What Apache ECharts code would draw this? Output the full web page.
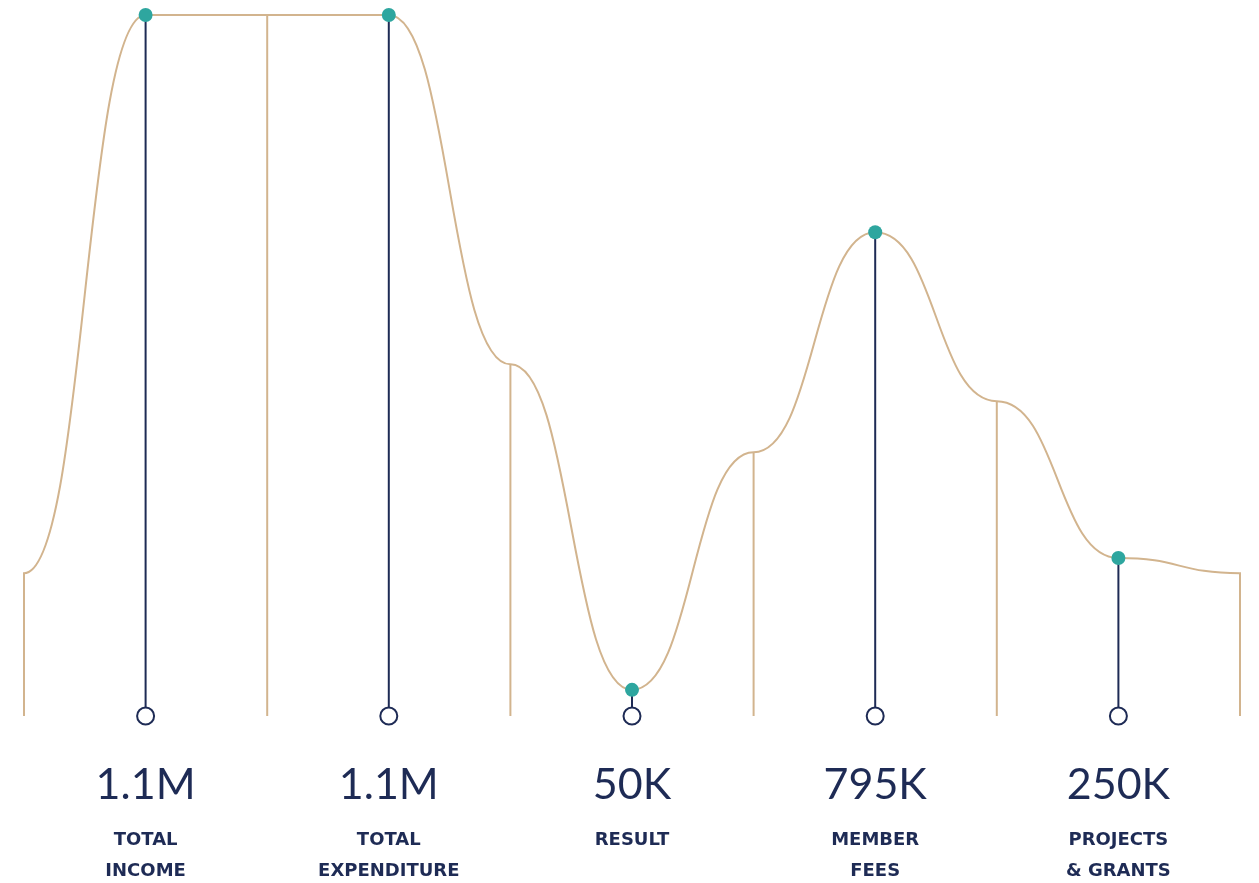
<!DOCTYPE html>
<html>
<head>
<meta charset="utf-8">
<script src="https://cdn.jsdelivr.net/npm/echarts@6/dist/echarts.min.js"></script>
<style>
html,body{margin:0;padding:0;background:#fff;}
#c{width:1259px;height:883px;}
</style>
</head>
<body>
<div id="c"></div>
<script>
// Curve heights (in thousands), one per slot (boundaries and items alternate)
const curveValues = [224, 1100, 1100, 1100, 552, 41, 414, 759, 494, 248, 224];
// Item slots (odd) carry the figures; even slots are the boundaries between them
const itemSlots = [1, 3, 5, 7, 9];
const valueLabels = ['1.1M', '1.1M', '50K', '795K', '250K'];
const categoryLabels = [['TOTAL', 'INCOME'], ['TOTAL', 'EXPENDITURE'], ['RESULT', ''], ['MEMBER', 'FEES'], ['PROJECTS', '& GRANTS']];

const TAN = '#D2B48E';
const NAVY = '#1E2B55';
const TEAL = '#2EA69F';

// One hidden slot on each side (cut off by the axis min/max) so the curve ends flat
const n = curveValues.length;
const slots = ['pad0'].concat(curveValues.map((_, i) => String(i)), ['pad1']);
const curve = [curveValues[0]].concat(curveValues, [curveValues[n - 1]]);
const boundaryBars = [null].concat(curveValues.map((v, i) => (i % 2 === 0 ? v : null)), [null]);
const itemBars = [null].concat(curveValues.map((v, i) => (i % 2 === 1 ? v : null)), [null]);
const baseCircles = [null].concat(curveValues.map((v, i) => (i % 2 === 1 ? 0 : null)), [null]);

const chart = echarts.init(document.getElementById('c'));
chart.setOption({
  animation: false,
  backgroundColor: '#fff',
  grid: { left: 24, right: 19, top: 15, bottom: 167, containLabel: false },
  xAxis: {
    type: 'category',
    data: slots,
    min: 1,
    max: n,
    boundaryGap: false,
    axisLine: { show: false },
    axisTick: { show: false },
    splitLine: { show: false },
    axisLabel: {
      interval: 0,
      margin: 29,
      formatter: function (val, idx) {
        const k = itemSlots.indexOf(Number(val));
        if (k < 0 || val.indexOf('pad') === 0) return '';
        return '{v|' + valueLabels[k] + '}\n{c|' + categoryLabels[k][0] + '}\n{c|' + categoryLabels[k][1] + '}';
      },
      rich: {
        v: { fontFamily: 'Lato', fontWeight: 400, fontSize: 43, color: NAVY, lineHeight: 80, align: 'center' },
        c: { fontFamily: 'DejaVu Sans', fontWeight: 'bold', fontSize: 18, color: NAVY, lineHeight: 31, align: 'center' }
      }
    }
  },
  yAxis: {
    type: 'value',
    min: 0,
    max: 1100,
    show: false
  },
  series: [
    {
      type: 'bar',
      data: boundaryBars,
      barWidth: 2,
      barGap: '-100%',
      itemStyle: { color: TAN },
      z: 1,
      silent: true
    },
    {
      type: 'bar',
      data: itemBars,
      barWidth: 2,
      barGap: '-100%',
      itemStyle: { color: NAVY },
      z: 2,
      silent: true
    },
    {
      type: 'line',
      data: curve,
      smooth: 0.5,
      smoothMonotone: 'x',
      showSymbol: false,
      lineStyle: { color: TAN, width: 2 },
      z: 3,
      silent: true
    },
    {
      type: 'scatter',
      data: itemBars,
      symbolSize: 14,
      itemStyle: { color: TEAL, opacity: 1 },
      clip: false,
      z: 5,
      silent: true
    },
    {
      type: 'scatter',
      data: baseCircles,
      symbolSize: 17,
      itemStyle: { color: '#fff', borderColor: NAVY, borderWidth: 2, opacity: 1 },
      clip: false,
      z: 6,
      silent: true
    }
  ]
});
</script>
</body>
</html>
